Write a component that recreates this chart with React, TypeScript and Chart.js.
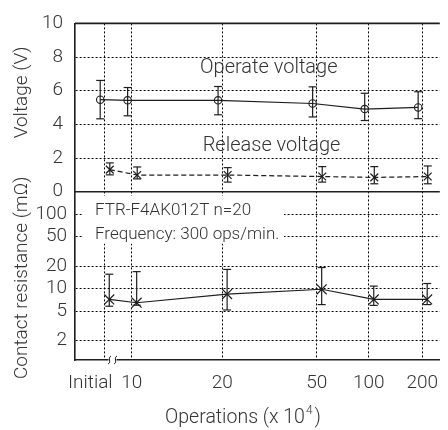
import React, { useEffect, useRef } from "react";
import { Chart, registerables } from "chart.js";
Chart.register(...registerables);

// ---------- data ----------
const categories = ["Initial", "10", "20", "50", "100", "200"];
// position of each category along the (non-uniform, broken) operations axis
const axisPositions = [0, 1, 4.3, 7.75, 9.65, 11.6];

const operateVoltage = [5.47, 5.43, 5.43, 5.24, 4.91, 5.01];
const operateHigh = [6.61, 6.19, 6.25, 6.23, 5.85, 5.94];
const operateLow = [4.33, 4.51, 4.57, 4.44, 4.23, 4.34];

const releaseVoltage = [1.31, 0.99, 0.99, 0.9, 0.85, 0.9];
const releaseHigh = [1.71, 1.47, 1.43, 1.49, 1.49, 1.53];
const releaseLow = [1.0, 0.76, 0.57, 0.57, 0.47, 0.47];

const contactResistance = [7.15, 6.46, 8.44, 9.8, 7.15, 7.15];
const resistanceHigh = [15.6, 16.9, 18.1, 19.2, 10.8, 11.7];
const resistanceLow = [5.8, 5.98, 5.16, 6.1, 5.95, 6.1];

const voltageTicks = [0, 2, 4, 6, 8, 10];
const resistanceTicks = [2, 5, 10, 20, 50, 100];

const voltageTitle = "Voltage (V)";
const resistanceTitle = "Contact resistance (mΩ)";
const xTitleMain = "Operations (x 10";
const xTitleSup = "4";
const xTitleEnd = ")";
const operateLabel = "Operate voltage";
const releaseLabel = "Release voltage";
const infoLines = ["FTR-F4AK012T n=20", "Frequency: 300 ops/min."];

// ---------- style ----------
const FONT = "Roboto, 'Liberation Sans', sans-serif";
const WEIGHT = "300";
const TEXT = "#333";
const LINE = "#1e1e1e";
const GRID = "#000";
const OPERATE_SHIFT = -0.15;
const RELEASE_SHIFT = 0.2;
const RESIST_SHIFT = 0.18;
const INITIAL_LABEL_SHIFT = -14;

export default function App() {
  const ref = useRef<HTMLCanvasElement>(null);

  useEffect(() => {
    const canvas = ref.current!;
    const pts = (vals: number[], shift: number) =>
      vals.map((v, i) => ({ x: axisPositions[i] + shift, y: v }));

    const errorSets = [
      { ds: 0, high: operateHigh, low: operateLow },
      { ds: 1, high: releaseHigh, low: releaseLow },
      { ds: 2, high: resistanceHigh, low: resistanceLow },
    ];

    const line = (ctx: CanvasRenderingContext2D, x1: number, y1: number, x2: number, y2: number) => {
      ctx.beginPath();
      ctx.moveTo(x1, y1);
      ctx.lineTo(x2, y2);
      ctx.stroke();
    };
    const font = (size: number) => `${WEIGHT} ${size}px ${FONT}`;

    const plugin = {
      id: "relayDecor",
      beforeDatasetsDraw(chart: any) {
        const { ctx, chartArea, scales } = chart;
        const yV = scales.yV;
        const yR = scales.yR;
        const x = scales.x;
        ctx.save();
        // solid panel borders
        ctx.strokeStyle = LINE;
        ctx.lineWidth = 1.6;
        line(ctx, chartArea.left, yV.top, chartArea.right, yV.top);
        line(ctx, chartArea.left, yV.bottom, chartArea.right, yV.bottom);
        // info box
        ctx.fillStyle = "#fff";
        ctx.fillRect(chartArea.left + 8, yR.top + 4, 201, 48);
        ctx.fillStyle = TEXT;
        ctx.font = font(17);
        ctx.textAlign = "left";
        ctx.textBaseline = "alphabetic";
        ctx.fillText(infoLines[0], chartArea.left + 20, yR.top + 23);
        ctx.fillText(infoLines[1], chartArea.left + 20, yR.top + 47);
        // axis break mark between Initial and 10
        const bx = x.getPixelForValue(0.3);
        const by = x.top;
        ctx.fillStyle = "#fff";
        ctx.fillRect(bx - 4, by - 2, 8, 4);
        ctx.strokeStyle = LINE;
        ctx.lineWidth = 1;
        for (const dx of [-3, 3]) {
          const cx = bx + dx;
          ctx.beginPath();
          ctx.moveTo(cx - 1.5, by + 4);
          ctx.bezierCurveTo(cx + 2.5, by + 2, cx - 2.5, by - 2, cx + 1.5, by - 4);
          ctx.stroke();
        }
        ctx.restore();
      },
      afterDatasetsDraw(chart: any) {
        const { ctx } = chart;
        ctx.save();
        ctx.strokeStyle = LINE;
        ctx.lineWidth = 1.2;
        for (const e of errorSets) {
          const meta = chart.getDatasetMeta(e.ds);
          const yScale = chart.scales[meta.yAxisID];
          meta.data.forEach((el: any, i: number) => {
            const px = el.x;
            const yh = yScale.getPixelForValue(e.high[i]);
            const yl = yScale.getPixelForValue(e.low[i]);
            line(ctx, px, yh, px, yl);
            line(ctx, px - 4, yh, px + 4, yh);
            line(ctx, px - 4, yl, px + 4, yl);
          });
        }
        ctx.restore();
      },
      afterDraw(chart: any) {
        const { ctx, scales } = chart;
        const x = scales.x;
        const yV = scales.yV;
        const yR = scales.yR;
        ctx.save();
        ctx.fillStyle = TEXT;
        // x tick labels
        ctx.font = font(19);
        ctx.textAlign = "center";
        ctx.textBaseline = "alphabetic";
        categories.forEach((c, i) => {
          const px = x.getPixelForValue(axisPositions[i]) + (i === 0 ? INITIAL_LABEL_SHIFT : 0);
          ctx.fillText(c, px, x.top + 28);
        });
        // annotations
        ctx.font = font(20);
        ctx.fillText(operateLabel, x.getPixelForValue(6.0), yV.getPixelForValue(7.05));
        ctx.fillText(releaseLabel, x.getPixelForValue(6.1), yV.getPixelForValue(2.4));
        // x title
        ctx.textAlign = "left";
        ctx.font = font(19.5);
        const w1 = ctx.measureText(xTitleMain).width;
        const w3 = ctx.measureText(xTitleEnd).width;
        ctx.font = font(12);
        const w2 = ctx.measureText(xTitleSup).width + 3;
        const total = w1 + w2 + w3;
        const cx = 243;
        const base = x.top + 63;
        const sx = cx - total / 2;
        ctx.font = font(19.5);
        ctx.fillText(xTitleMain, sx, base);
        ctx.font = font(12);
        ctx.fillText(xTitleSup, sx + w1 + 1, base - 9);
        ctx.font = font(19.5);
        ctx.fillText(xTitleEnd, sx + w1 + w2, base);
        // y titles
        ctx.textAlign = "center";
        ctx.textBaseline = "middle";
        ctx.font = font(19);
        ctx.save();
        ctx.translate(22, yV.top + 69);
        ctx.rotate(-Math.PI / 2);
        ctx.fillText(voltageTitle, 0, 0);
        ctx.restore();
        ctx.save();
        ctx.translate(22, (yR.top + yR.bottom) / 2 + 2);
        ctx.rotate(-Math.PI / 2);
        ctx.fillText(resistanceTitle, 0, 0);
        ctx.restore();
        ctx.restore();
      },
    };

    const tickFont = { family: FONT, size: 19, weight: WEIGHT };

    const chart = new Chart(canvas, {
      type: "line",
      data: {
        datasets: [
          {
            label: "Operate voltage",
            data: pts(operateVoltage, OPERATE_SHIFT),
            yAxisID: "yV",
            borderColor: LINE,
            borderWidth: 1.2,
            pointStyle: "circle",
            pointRadius: 3.7,
            pointBorderWidth: 1.1,
            pointBorderColor: LINE,
            pointBackgroundColor: "rgba(0,0,0,0)",
          },
          {
            label: "Release voltage",
            data: pts(releaseVoltage, RELEASE_SHIFT),
            yAxisID: "yV",
            borderColor: LINE,
            borderWidth: 1.2,
            borderDash: [5, 3],
            pointStyle: "crossRot",
            pointRadius: 5.5,
            pointBorderWidth: 1.2,
            pointBorderColor: LINE,
          },
          {
            label: "Contact resistance",
            data: pts(contactResistance, RESIST_SHIFT),
            yAxisID: "yR",
            borderColor: LINE,
            borderWidth: 1.2,
            pointStyle: "crossRot",
            pointRadius: 7,
            pointBorderWidth: 1.2,
            pointBorderColor: LINE,
          },
        ],
      },
      options: {
        animation: false,
        responsive: false,
        devicePixelRatio: 1,
        layout: { padding: { top: 10, left: 0, right: 0, bottom: 0 } },
        elements: { line: { tension: 0, fill: false } },
        plugins: { legend: { display: false }, tooltip: { enabled: false } },
        scales: {
          x: {
            type: "linear",
            min: -1.07,
            max: 12.24,
            afterBuildTicks: (s: any) => {
              s.ticks = axisPositions.map((v) => ({ value: v }));
            },
            ticks: { display: false },
            grid: { color: GRID, lineWidth: 1, drawTicks: false },
            border: { color: LINE, width: 1.6, dash: [2, 2] },
            afterFit: (s: any) => {
              s.height = 70;
            },
          },
          yR: {
            type: "logarithmic",
            position: "left",
            stack: "panels",
            stackWeight: 1,
            min: 1.1,
            max: 200,
            afterBuildTicks: (s: any) => {
              s.ticks = resistanceTicks.map((v) => ({ value: v }));
            },
            ticks: {
              autoSkip: false,
              padding: 8,
              color: TEXT,
              font: tickFont,
              callback: (v: any) => String(v),
            },
            grid: { color: GRID, lineWidth: 1, drawTicks: false },
            border: { color: LINE, width: 1.6, dash: [2, 2] },
            afterFit: (s: any) => {
              s.width = 75;
            },
          },
          yV: {
            type: "linear",
            position: "left",
            stack: "panels",
            stackWeight: 1,
            min: 0,
            max: 10,
            afterBuildTicks: (s: any) => {
              s.ticks = voltageTicks.map((v) => ({ value: v }));
            },
            ticks: { autoSkip: false, padding: 12, color: TEXT, font: tickFont },
            grid: {
              color: (c: any) =>
                c.tick && (c.tick.value === 0 || c.tick.value === 10) ? "rgba(0,0,0,0)" : GRID,
              lineWidth: 1,
              drawTicks: false,
            },
            border: { color: LINE, width: 1.6, dash: [2, 2] },
            afterFit: (s: any) => {
              s.width = 75;
            },
          },
        },
      } as any,
      plugins: [plugin],
    });
    return () => chart.destroy();
  }, []);

  return (
    <div style={{ position: "absolute", left: 0, top: 0, width: 448, height: 430, background: "#fff" }}>
      <canvas ref={ref} width={448} height={430} style={{ display: "block" }} />
    </div>
  );
}
